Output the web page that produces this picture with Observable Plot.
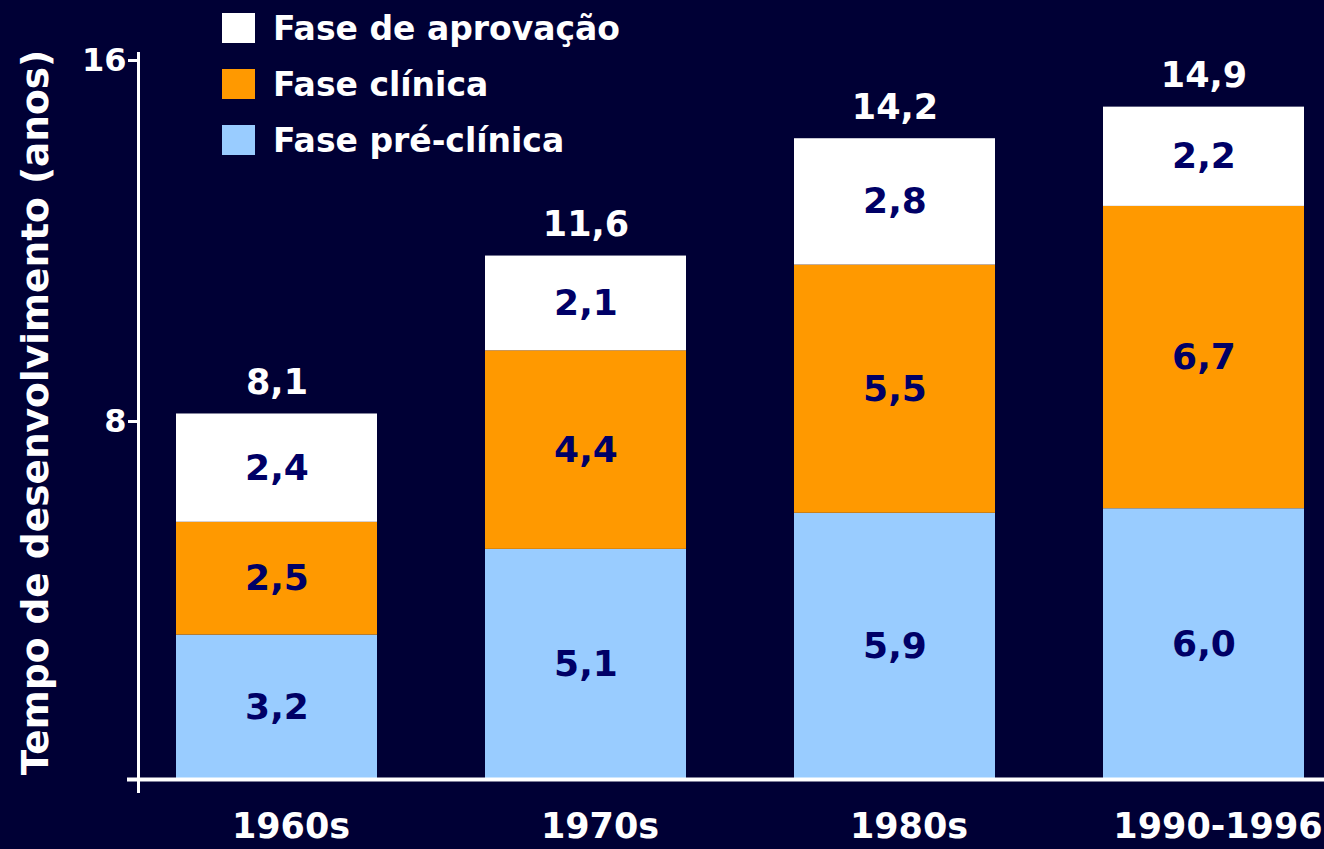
<!DOCTYPE html>
<html>
<head>
<meta charset="utf-8">
<script src="https://cdn.jsdelivr.net/npm/d3@7"></script>
<script src="https://cdn.jsdelivr.net/npm/@observablehq/plot@0.6"></script>
<style>
  html, body { margin: 0; padding: 0; background: #000035; }
  #wrap { position: relative; width: 1324px; height: 849px; overflow: hidden; }
  #legend { position: absolute; left: 222px; top: 0px; font-family: "DejaVu Sans", sans-serif; font-weight: bold; font-size: 33px; color: white; }
  .row { display: flex; align-items: center; height: 56px; }
  .sw { width: 33px; height: 30px; margin-right: 18px; box-sizing: border-box; }
</style>
</head>
<body>
<div id="wrap"><div id="legend"></div></div>
<script>
const decades = ["1960s", "1970s", "1980s", "1990-1996"];
const phases = ["Fase pré-clínica", "Fase clínica", "Fase de aprovação"];
const preClinica = [3.2, 5.1, 5.9, 6.0];
const clinica = [2.5, 4.4, 5.5, 6.7];
const aprovacao = [2.4, 2.1, 2.8, 2.2];
const totals = [8.1, 11.6, 14.2, 14.9];
const phaseColors = ["#99CCFF", "#FF9900", "#FFFFFF"];
const legendOrder = ["Fase de aprovação", "Fase clínica", "Fase pré-clínica"];
const yTicks = [8, 16];

const fmt = v => v.toFixed(1).replace(".", ",");
const seriesByPhase = [preClinica, clinica, aprovacao];
const rows = [];
decades.forEach((d, i) => phases.forEach((p, j) => rows.push({decade: d, phase: p, value: seriesByPhase[j][i]})));
const totalRows = decades.map((d, i) => ({decade: d, total: totals[i]}));

const chart = Plot.plot({
  width: 1324,
  height: 849,
  marginLeft: 138,
  marginRight: 0,
  marginTop: 57,
  marginBottom: 70,
  style: {background: "#000035", color: "white", fontFamily: "DejaVu Sans, sans-serif", fontWeight: "bold"},
  x: {domain: decades, paddingInner: 0.35, paddingOuter: 0.09, align: 0.66, axis: null},
  y: {domain: [0, 16], axis: null},
  color: {domain: phases, range: phaseColors},
  marks: [
    Plot.barY(rows, {x: "decade", y: "value", fill: "phase", order: phases}),
    Plot.text(rows, Plot.stackY({x: "decade", y: "value", z: "phase", order: phases, text: d => fmt(d.value), fill: "#000066", fontSize: 36, fontWeight: "bold"})),
    Plot.text(totalRows, {x: "decade", y: "total", text: d => fmt(d.total), fill: "white", fontSize: 35, fontWeight: "bold", dy: -31}),
    Plot.frame({anchor: "left", stroke: "white", strokeWidth: 3, insetTop: -4, insetBottom: -12}),
    Plot.ruleY([0], {stroke: "white", strokeWidth: 4, insetLeft: -11}),
    Plot.axisY({ticks: yTicks, tickSize: 10, tickPadding: 2, fontSize: 32, fontWeight: "bold", stroke: "white", strokeWidth: 3, label: null, dy: 3}),
    Plot.axisX({tickSize: 0, tickPadding: 34, fontSize: 35, fontWeight: "bold", label: null, dx: 14}),
    Plot.text(["Tempo de desenvolvimento (anos)"], {frameAnchor: "left", textAnchor: "middle", rotate: -90, dx: -103, dy: -6, fontSize: 37.5, fontWeight: "bold", fill: "white"})
  ]
});
document.getElementById("wrap").prepend(chart);

const legend = document.getElementById("legend");
legendOrder.forEach(p => {
  const row = document.createElement("div");
  row.className = "row";
  const sw = document.createElement("div");
  sw.className = "sw";
  sw.style.background = phaseColors[phases.indexOf(p)];
  const t = document.createElement("span");
  t.textContent = p;
  row.append(sw, t);
  legend.append(row);
});
</script>
</body>
</html>
